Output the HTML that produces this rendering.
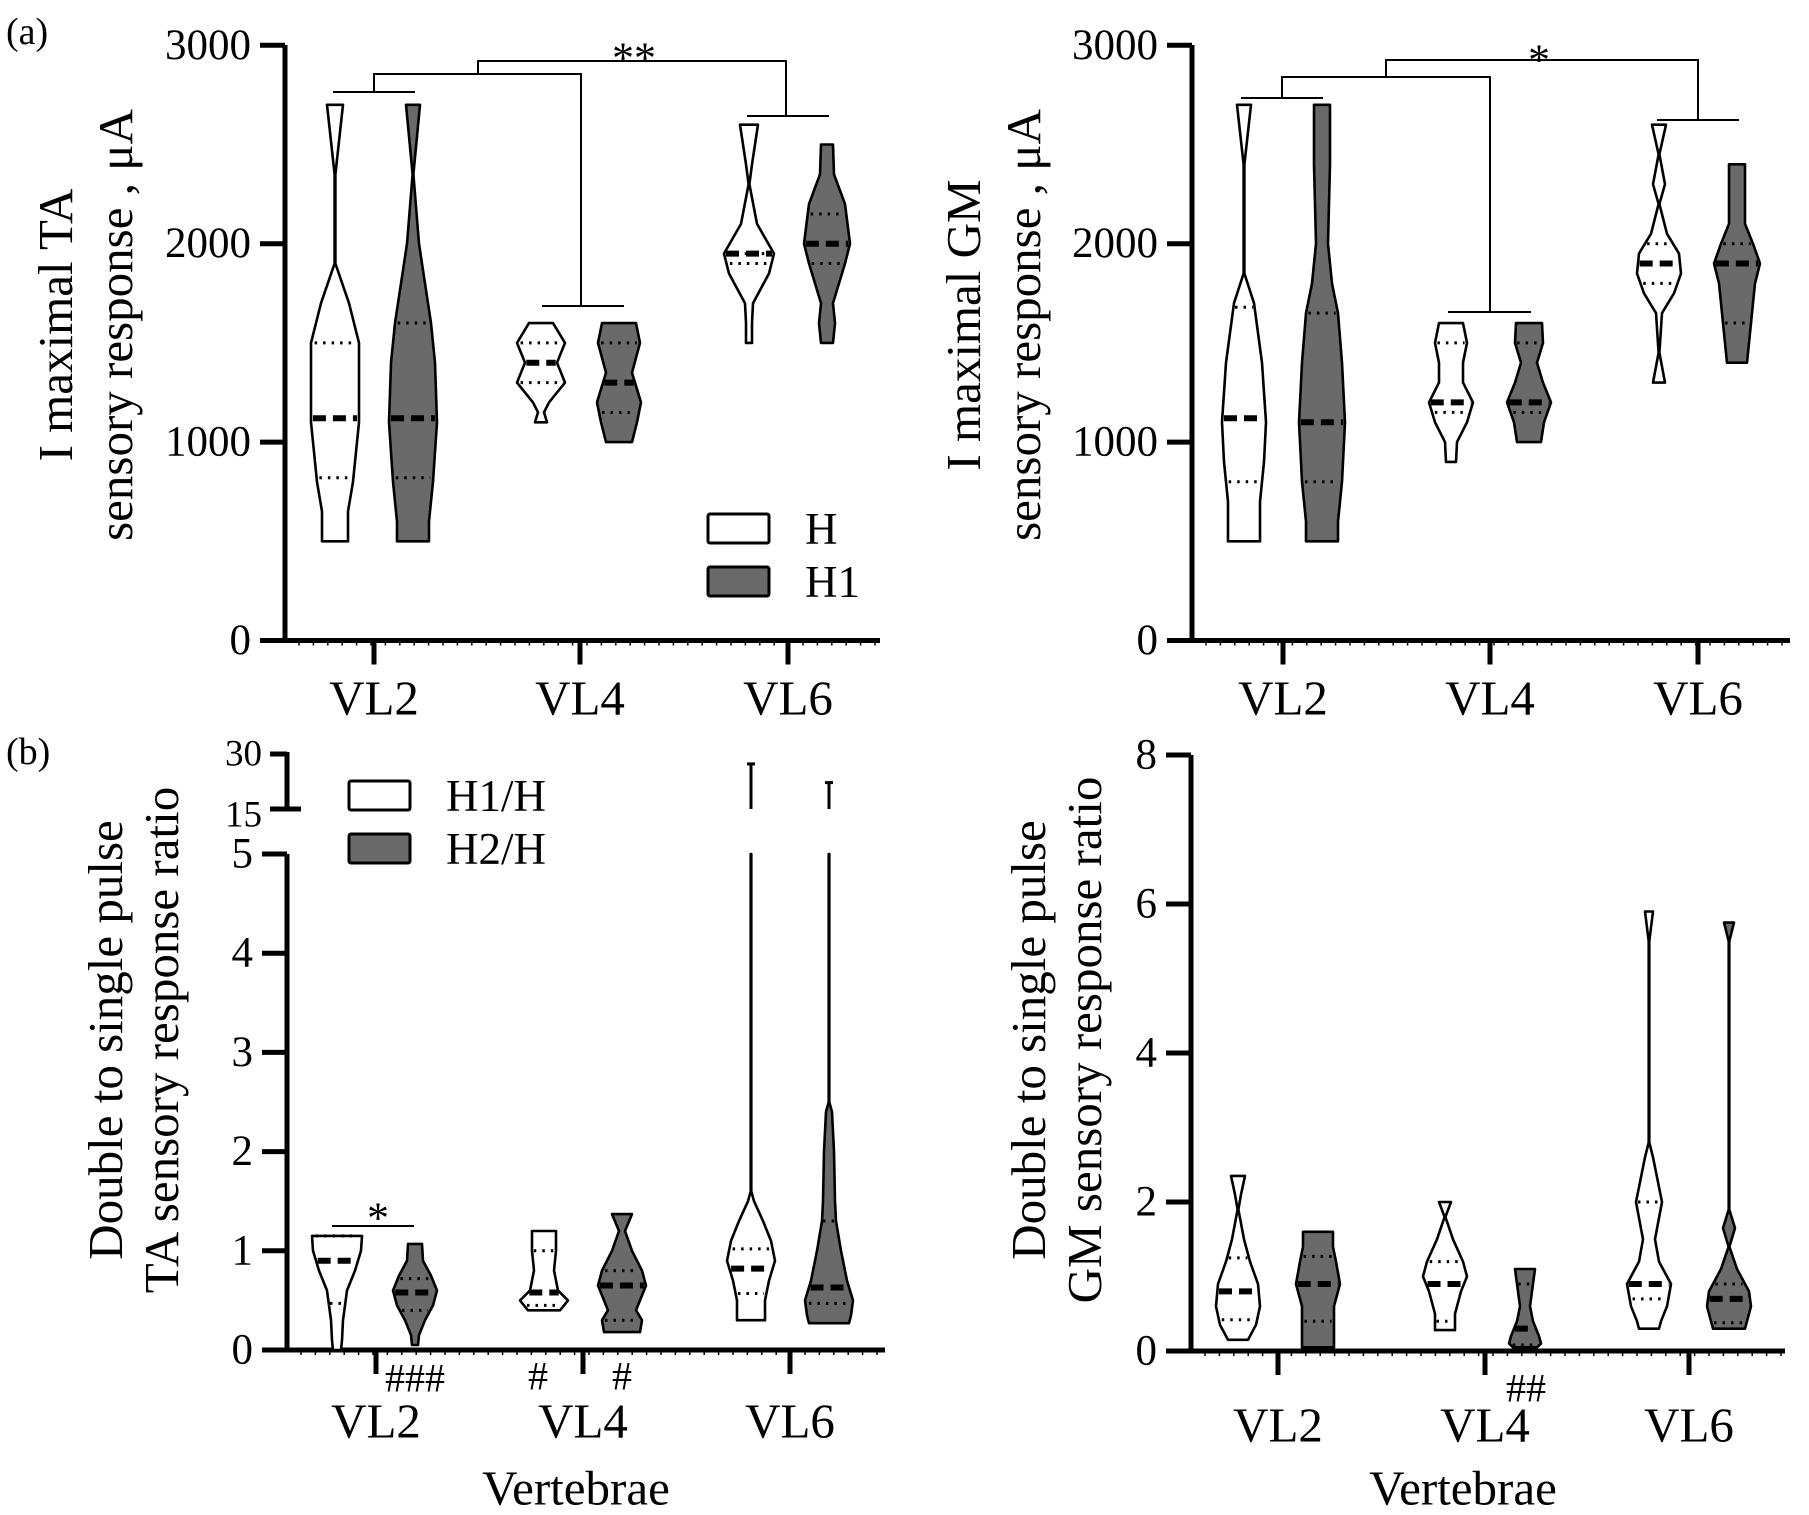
<!DOCTYPE html>
<html><head><meta charset="utf-8"><style>
html,body{margin:0;padding:0;background:#fff}
svg{display:block}
text,tspan{font-family:"Liberation Serif","Times New Roman",Times,serif;fill:#000}
</style></head><body>
<svg id="fig" width="1809" height="1515" viewBox="0 0 1809 1515" xmlns="http://www.w3.org/2000/svg" font-family="Liberation Serif, Times New Roman, serif"></svg>
<script>
// ---------- DATA ----------
const categories = ["VL2","VL4","VL6"];
// Panel A-left (TA, µA)
const taTicks = [0,1000,2000,3000];
const taMed = [[1120,1120],[1400,1300],[1950,2000]];
const taQ1  = [[820,820],[1300,1150],[1900,1900]];
const taQ3  = [[1500,1600],[1500,1500],[1950,2150]];
const taVals = [
 [[2700,2350,1900,1700,1500,1100,800,650,500],[2700,2350,2000,1800,1600,1400,1100,800,600,500]],
 [[1600,1500,1400,1300,1200,1150,1100],[1600,1500,1350,1200,1100,1000]],
 [[2600,2400,2300,2100,1950,1850,1700,1600,1500],[2500,2350,2200,2000,1900,1800,1700,1600,1500]]];
const taW = [
 [[8,0.4,0.4,14,24,24,18,13,13],[7,0.4,6,12,18,22,24,20,16,16]],
 [[12,24,16,24,8,3,6],[17,21,13,22,18,13]],
 [[9,3,0.4,8,25,20,4,3,3],[6,7,18,23,18,12,6,8,6]]];
// Panel A-right (GM, µA)
const gmTicks = [0,1000,2000,3000];
const gmMed = [[1120,1100],[1200,1200],[1900,1900]];
const gmQ1  = [[800,800],[1150,1150],[1800,1600]];
const gmQ3  = [[1680,1650],[1500,1500],[2000,2000]];
const gmVals = [
 [[2700,2400,1850,1700,1400,1100,900,700,500],[2700,2400,2000,1800,1650,1400,1100,800,600,500]],
 [[1600,1500,1400,1300,1200,1100,1000,900],[1600,1500,1400,1300,1200,1100,1000]],
 [[2600,2450,2300,2200,2050,1950,1850,1750,1650,1450,1300],[2400,2100,2000,1900,1800,1600,1400]]];
const gmW = [
 [[7,0.4,0.4,10,18,22,20,16,16],[8,8,6,10,16,20,23,20,16,16]],
 [[12,16,12,12,22,16,6,5],[13,14,8,14,22,15,12]],
 [[7,0.4,6,0.4,8,20,22,15,3,0.4,6],[8,8,16,23,18,14,10]]];
// Panel B-left (TA ratio, broken axis)
const rTaTicks = [0,1,2,3,4,5];
const rTaUpTicks = [15,30];
const rTaMed = [[0.9,0.58],[0.58,0.65],[0.82,0.63]];
const rTaQ1  = [[0.47,0.4],[0.45,0.3],[0.57,0.47]];
const rTaQ3  = [[1.15,0.72],[1.0,0.8],[1.02,1.3]];
const rTaMax = [[null,null],[null,null],[27.3,22.2]];
const rTaVals = [
 [[1.15,1.0,0.8,0.6,0.45,0.3,0.1,0],[1.07,0.9,0.75,0.6,0.45,0.3,0.15,0.05]],
 [[1.2,1.0,0.8,0.6,0.5,0.45,0.4],[1.37,1.2,1.0,0.8,0.65,0.5,0.4,0.3,0.18]],
 [[5,1.6,1.5,1.3,1.1,0.9,0.7,0.5,0.3],[5,2.5,2.4,2.0,1.5,1.3,1.0,0.7,0.5,0.35,0.27]]];
const rTaW = [
 [[25,24,18,10,8,6,5,4],[7,8,16,22,18,10,4,3]],
 [[12,12,10,14,24,20,16],[10,3,10,20,24,18,14,20,18]],
 [[0.3,0.3,3,12,20,24,18,14,14],[0.3,0.3,3,5,6,7,12,18,24,22,20]]];
// Panel B-right (GM ratio)
const rGmTicks = [0,2,4,6,8];
const rGmMed = [[0.8,0.9],[0.9,0.3],[0.9,0.7]];
const rGmQ1  = [[0.42,0.4],[0.4,0.08],[0.7,0.38]];
const rGmQ3  = [[1.25,1.27],[1.2,0.9],[2.0,0.9]];
const rGmVals = [
 [[2.35,2.1,1.9,1.5,1.2,0.9,0.6,0.35,0.15],[1.6,1.4,1.2,0.9,0.6,0.3,0.05]],
 [[2.0,1.8,1.5,1.2,1.0,0.8,0.5,0.35,0.28],[1.1,0.9,0.6,0.4,0.2,0.1,0.05]],
 [[5.9,5.5,2.8,2.6,2.2,2.0,1.5,1.2,0.9,0.6,0.4,0.3],[5.75,5.5,1.9,1.65,1.4,1.1,0.8,0.6,0.4,0.3]]];
const rGmW = [
 [[7,3,0.4,6,12,20,22,18,10],[15,15,18,22,16,16,16]],
 [[6,0.4,8,18,22,16,10,10,10],[10,8,5,8,14,16,12]],
 [[4,0.3,0.3,4,10,13,6,10,22,18,12,10],[5,0.3,0.3,6,0.4,8,20,22,18,16]]];

// ---------- DRAWING ----------
const svg = document.getElementById('fig');
const NS = 'http://www.w3.org/2000/svg';
function mk(tag, attrs, name, parent){
  const el = document.createElementNS(NS, tag);
  for (const k in attrs) el.setAttribute(k, attrs[k]);
  
  
  (parent||svg).appendChild(el);
  return el;
}
function txt(x,y,s,size,name,anchor,extra){
  const t = mk('text', Object.assign({x:x,y:y,'font-size':size,'text-anchor':anchor||'middle','dominant-baseline':'central','font-family':'Liberation Serif, Times New Roman, serif'},extra||{}), name);
  t.textContent = s;
  return t;
}
const FILL = ['#ffffff','#6a6a6a'];
function widthAt(vals, ws, v){
  for (let i=0;i<vals.length-1;i++){
    if (v<=vals[i] && v>=vals[i+1]){
      const t = (vals[i]-v)/((vals[i]-vals[i+1])||1);
      return ws[i]+(ws[i+1]-ws[i])*t;
    }
  }
  return ws[ws.length-1];
}
function violin(cx, vals, ws, y, fill, med, q1, q3, name){
  const g = mk('g', {}, name);
  let d = '';
  vals.forEach((v,i)=>{ d += (i?'L':'M')+(cx+ws[i]).toFixed(1)+','+y(v).toFixed(1)+' '; });
  for (let i=vals.length-1;i>=0;i--) d += 'L'+(cx-ws[i]).toFixed(1)+','+y(vals[i]).toFixed(1)+' ';
  d += 'Z';
  mk('path', {d:d, fill:fill, stroke:'#000','stroke-width':2.6,'stroke-linejoin':'round'}, name+'-body', g);
  [q1,q3].forEach((q,k)=>{
    const w = widthAt(vals, ws, q)*0.85;
    mk('line', {x1:cx-w,x2:cx+w,y1:y(q),y2:y(q),stroke:'#000','stroke-width':3,'stroke-dasharray':'2.5 6'}, name+(k?'-q3':'-q1'), g);
  });
  const wm = widthAt(vals, ws, med)*0.92;
  mk('line', {x1:cx-wm,x2:cx+wm,y1:y(med),y2:y(med),stroke:'#000','stroke-width':6,'stroke-dasharray':'13 7'}, name+'-median', g);
}
function panel(o){
  mk('line',{x1:o.ax,x2:o.ax,y1:o.axTop,y2:o.y0+2.5,stroke:'#000','stroke-width':5},o.id+'-y-axis');
  mk('line',{x1:o.ax-25,x2:o.xEnd,y1:o.y0,y2:o.y0,stroke:'#000','stroke-width':5},o.id+'-x-axis');
  o.ticks.forEach(t=>{
    mk('line',{x1:o.ax-25,x2:o.ax,y1:o.y(t),y2:o.y(t),stroke:'#000','stroke-width':5},o.id+'-y-tick');
    txt(o.ax-34,o.y(t),String(t),o.tickSize,o.id+'-y-tick-label','end');
  });
  for (let x=o.ax+14;x<o.xEnd;x+=14.4) mk('line',{x1:x,x2:x,y1:o.y0,y2:o.y0+5,stroke:'#000','stroke-width':1.5},o.id+'-minor-tick');
  categories.forEach((c,i)=>{
    const cx=o.cats[i];
    mk('line',{x1:cx,x2:cx,y1:o.y0,y2:o.y0+24,stroke:'#000','stroke-width':5},o.id+'-x-tick');
    txt(cx,o.labY,c,49,o.id+'-x-label-'+c.toLowerCase());
    for (let s=0;s<2;s++){
      violin(cx+(s?o.off:-o.off), o.vals[i][s], o.ws[i][s], o.y, FILL[s], o.med[i][s], o.q1[i][s], o.q3[i][s], o.id+'-violin-'+c.toLowerCase()+'-'+s);
    }
  });
  const t = txt(0,0,'',49,o.id+'-y-axis-title','middle',{transform:'translate('+o.titleX+','+o.titleY+') rotate(-90)'});
  t.removeAttribute('dominant-baseline');
  o.title.forEach((line,k)=>{
    const ts = mk('tspan',{x:0,dy:k?o.lineGap:0},o.id+'-y-axis-title-line',t);
    ts.textContent=line;
  });
}
const yT = v => 640.5 - v*0.1984;
panel({id:'ta',ax:285,axTop:45,y0:640.5,xEnd:880,y:yT,ticks:taTicks,tickSize:43,cats:[374,580,788],off:39,labY:698,
  vals:taVals,ws:taW,med:taMed,q1:taQ1,q3:taQ3,title:['I maximal TA','sensory response , μA'],titleX:72,titleY:325,lineGap:60});
panel({id:'gm',ax:1192,axTop:45,y0:640.5,xEnd:1790,y:yT,ticks:gmTicks,tickSize:43,cats:[1283,1490,1698],off:39,labY:698,
  vals:gmVals,ws:gmW,med:gmMed,q1:gmQ1,q3:gmQ3,title:['I maximal GM','sensory response , μA'],titleX:980,titleY:325,lineGap:60});
const yL = v => v<=5 ? 1350 - v*99.2 : 809 - (v-15)*(55/15);
panel({id:'rta',ax:287,axTop:854,y0:1350,xEnd:885,y:yL,ticks:rTaTicks,tickSize:43,cats:[376,583,790],off:39,labY:1421,
  vals:rTaVals,ws:rTaW,med:rTaMed,q1:rTaQ1,q3:rTaQ3,title:['Double to single pulse','TA sensory response ratio'],titleX:122,titleY:1040,lineGap:56});
const yR = v => 1351 - v*74.5;
panel({id:'rgm',ax:1191,axTop:755,y0:1351,xEnd:1785,y:yR,ticks:rGmTicks,tickSize:43,cats:[1278,1485,1689],off:40,labY:1425,
  vals:rGmVals,ws:rGmW,med:rGmMed,q1:rGmQ1,q3:rGmQ3,title:['Double to single pulse','GM sensory response ratio'],titleX:1045,titleY:1040,lineGap:56});

mk('line',{x1:287,x2:287,y1:752,y2:811,stroke:'#000','stroke-width':5},'rta-y-axis-upper');
rTaUpTicks.forEach(t=>{
  mk('line',{x1:270,x2:t===15?301:287,y1:yL(t),y2:yL(t),stroke:'#000','stroke-width':5},'rta-y-tick-upper');
  txt(262,yL(t)+(t===15?6:0),String(t),37,'rta-y-tick-label-upper','end');
});
rTaMax.forEach((pair,i)=>pair.forEach((m,s)=>{
  if (m===null) return;
  const cx=[376,583,790][i]+(s?39:-39);
  mk('line',{x1:cx,x2:cx,y1:yL(m),y2:yL(15),stroke:'#000','stroke-width':3},'rta-whisker-upper');
  mk('line',{x1:cx-4,x2:cx+4,y1:yL(m),y2:yL(m),stroke:'#000','stroke-width':3},'rta-whisker-cap');
}));

function pl(pts,name){ mk('polyline',{points:pts,fill:'none',stroke:'#000','stroke-width':2},name); }
pl('333,92 415,92','ta-sig-bar-vl2'); pl('374,92 374,74 581,74 581,306','ta-sig-bracket-1');
pl('542,306 624,306','ta-sig-bar-vl4'); pl('478,74 478,61 786,61 786,116','ta-sig-bracket-2');
pl('747,116 829,116','ta-sig-bar-vl6');
txt(634,58,'**',44,'ta-sig-label');
pl('1241,98 1323,98','gm-sig-bar-vl2'); pl('1282,98 1282,77 1490,77 1490,312','gm-sig-bracket-1');
pl('1448,312 1531,312','gm-sig-bar-vl4'); pl('1386,77 1386,60 1698,60 1698,120','gm-sig-bracket-2');
pl('1657,120 1739,120','gm-sig-bar-vl6');
txt(1539,60,'*',44,'gm-sig-label');
pl('332,1226 414,1226','rta-sig-bar-vl2');
txt(378,1218,'*',44,'rta-sig-label');
txt(415,1378,'###',40,'rta-hash-vl2');
txt(538,1376,'#',40,'rta-hash-vl4-h1');
txt(622,1376,'#',40,'rta-hash-vl4-h2');
txt(1526,1388,'##',40,'rgm-hash-vl4');

txt(576,1488,'Vertebrae',49,'rta-x-axis-title');
txt(1463,1488,'Vertebrae',49,'rgm-x-axis-title');
txt(6,32,'(a)',38,'panel-label-a','start');
txt(6,752,'(b)',38,'panel-label-b','start');

function legend(x,y,labels,name){
  labels.forEach((l,i)=>{
    const yy=y+i*53;
    mk('rect',{x:x,y:yy,width:61,height:29,fill:FILL[i],stroke:'#000','stroke-width':3,rx:2},name+'-swatch-'+i);
    txt(x+97,yy+15,l,45,name+'-label-'+i,'start');
  });
}
legend(708,514,['H','H1'],'ta-legend');
legend(349,781,['H1/H','H2/H'],'rta-legend');
</script>
</body></html>
